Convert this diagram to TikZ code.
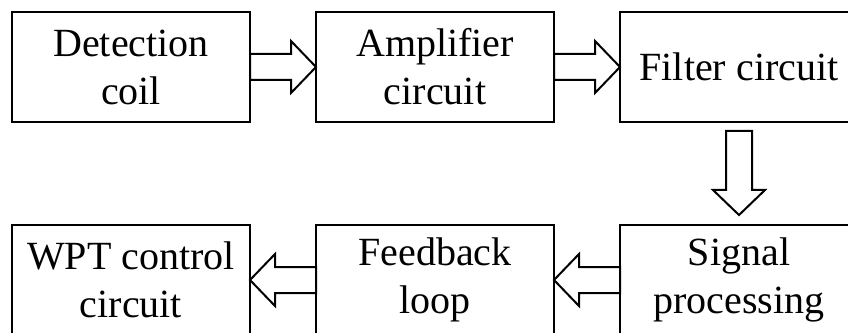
\documentclass[tikz,border=0pt]{standalone}
\usepackage{fontspec}
\setmainfont{Liberation Serif}
\usepackage{tikz}
\usetikzlibrary{positioning,calc}

\tikzset{
    block/.style={draw, line width=2pt, outer sep=0pt, inner sep=0pt,
        minimum width=238pt, minimum height=110pt, align=center,
        font=\fontsize{40}{48}\selectfont},
    fatarrow/.style={draw, line width=2pt, line join=miter,
        to path={($(\tikztotarget)!25pt!(\tikztostart)$) coordinate (fh)
            ($(\tikztostart)!13pt!90:(\tikztotarget)$)
            -- ($(fh)!13pt!90:(\tikztotarget)$)
            -- ($(fh)!26pt!90:(\tikztotarget)$)
            -- (\tikztotarget)
            -- ($(fh)!26pt!-90:(\tikztotarget)$)
            -- ($(fh)!13pt!-90:(\tikztotarget)$)
            -- ($(\tikztostart)!13pt!-90:(\tikztotarget)$) -- cycle}}
}

\begin{document}
\begin{tikzpicture}
    \useasboundingbox (0,0) rectangle (848pt,332pt);
    \clip (0,0) rectangle (848pt,332pt);

    \node[block] (coil) at (131pt,265pt) {Detection\\coil};
    \node[block, right=66pt of coil] (amp) {Amplifier\\circuit};
    \node[block, right=66pt of amp] (filter) {Filter circuit};

    \node[block, below=103pt of filter] (signal) {Signal\\processing};
    \node[block, left=66pt of signal] (feedback) {Feedback\\loop};
    \node[block, left=66pt of feedback] (wpt) {WPT control\\circuit};

    \draw[fatarrow] (coil.east) to (amp.west);
    \draw[fatarrow] (amp.east) to (filter.west);
    \draw[fatarrow] ($(filter.south)+(0,-9pt)$) to ($(signal.north)+(0,10pt)$);
    \draw[fatarrow] (signal.west) to (feedback.east);
    \draw[fatarrow] (feedback.west) to (wpt.east);
\end{tikzpicture}
\end{document}
